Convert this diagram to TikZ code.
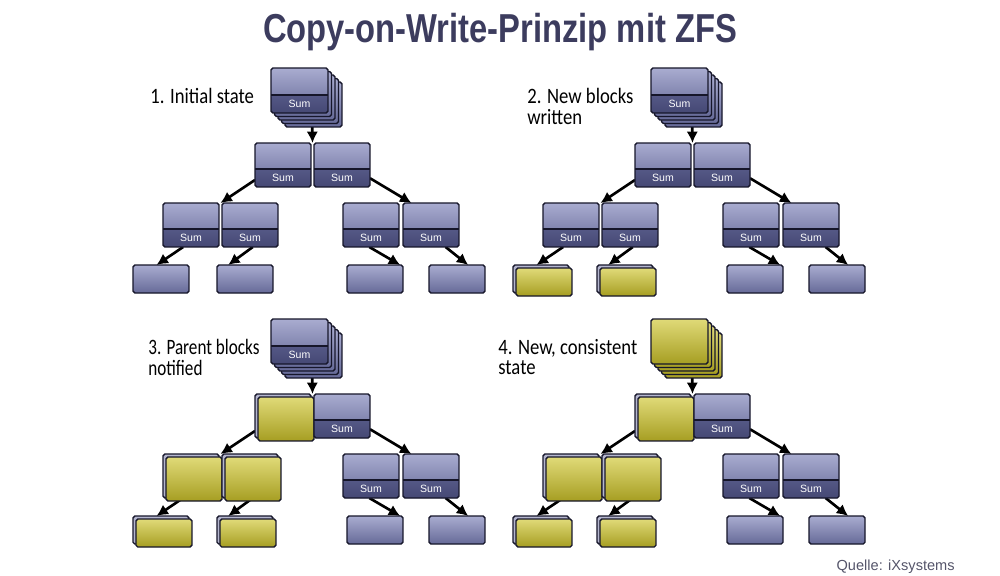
\documentclass[tikz,border=0pt]{standalone}
\usepackage{fontspec}
\newfontfamily\titlefont{Liberation Sans}
\newfontfamily\capfont{Carlito}
\usetikzlibrary{arrows.meta, calc, backgrounds}

\definecolor{bluetop}{HTML}{A9ACD0}
\definecolor{bluebot}{HTML}{666A98}
\definecolor{sumtop}{HTML}{6C70A0}
\definecolor{sumbot}{HTML}{454874}
\definecolor{blkline}{HTML}{16162A}
\definecolor{yeltop}{HTML}{E0DA78}
\definecolor{yelbot}{HTML}{A69E22}
\definecolor{backfill}{HTML}{B4B6CE}
\definecolor{titlecol}{HTML}{3C3C5E}
\definecolor{srccol}{HTML}{55556A}

\newcommand\narrow[2][0.85]{\scalebox{#1}[1]{#2}}

\tikzset{
  blk/.style={draw=blkline, line width=0.8pt, rounded corners=1pt, anchor=north west, inner sep=0pt, outer sep=0pt},
  midsize/.style={minimum width=1.12cm, minimum height=0.88cm},
  leafsize/.style={minimum width=1.12cm, minimum height=0.56cm},
  rootsize/.style={minimum width=1.14cm, minimum height=0.9cm},
  blueblk/.style={blk, top color=bluetop, bottom color=bluebot},
  yelblk/.style={blk, top color=yeltop, bottom color=yelbot},
  backblk/.style={blk, fill=backfill},
  sumtext/.style={font=\titlefont\fontsize{6}{6}\selectfont, text=white, inner sep=0pt, anchor=center},
  sumblk/.style={blueblk, path picture={
      \shade[top color=sumtop, bottom color=sumbot] (path picture bounding box.south west) rectangle ([yshift=0.36cm]path picture bounding box.south east);
      \draw[blkline, line width=0.6pt] ([yshift=0.36cm]path picture bounding box.south west) -- ([yshift=0.36cm]path picture bounding box.south east);
  }},
  oldmid/.style={sumblk, midsize},
  oldleaf/.style={blueblk, leafsize},
  conn/.style={line width=1.5pt, draw=black, -{Latex[length=6.5pt,width=6.5pt]}},
  statecap/.style={font=\capfont\fontsize{12.5}{11.9}\selectfont, text=black, inner sep=0pt, anchor=base west},
  titletext/.style={font=\titlefont\fontsize{23}{26}\selectfont\bfseries, text=titlecol, anchor=base, inner sep=0pt},
  srcnote/.style={font=\titlefont\fontsize{8.3}{10}\selectfont, text=srccol, anchor=base east, inner sep=0pt},
}

% one block: name, position, new (1) or old (0), mid/leaf
\newcommand\blkat[4]{%
  \ifnum#3=1
    \node[backblk, #4size] (#1) at (#2) {};
    \node[yelblk, #4size] (#1-new) at ([shift={(0.06cm,-0.06cm)}]#1.north west) {};
  \else
    \node[old#4] (#1) at (#2) {};
  \fi}
\newcommand\sumat[1]{\node[sumtext] (#1-sum) at ([yshift=0.18cm]#1.south) {Sum};}

% one tree: shift, prefix, root new, left parent new, left middle new, left leaves new
\newcommand\cowtree[6]{%
\begin{scope}[shift={(#1)}]
  \ifnum#3=1
    \tikzset{stackface/.style=yelblk, rootface/.style=yelblk}
  \else
    \tikzset{stackface/.style=blueblk, rootface/.style=sumblk}
  \fi
  % uberblock stack
  \foreach \k in {4,3,2,1}
    \node[stackface, rootsize] (#2-stack\k) at (271+3.5*\k,68+3.5*\k) {};
  \node[rootface, rootsize] (#2-root) at (271,68) {};
  \ifnum#3=0 \sumat{#2-root}\fi
  % level 1
  \blkat{#2-l1a}{255,143}{#4}{mid}
  \ifnum#4=0 \sumat{#2-l1a}\fi
  \blkat{#2-l1b}{314,143}{0}{mid}
  \sumat{#2-l1b}
  % level 2
  \blkat{#2-l2a}{163,203}{#5}{mid}
  \blkat{#2-l2b}{222,203}{#5}{mid}
  \ifnum#5=0 \sumat{#2-l2a}\sumat{#2-l2b}\fi
  \blkat{#2-l2c}{343,203}{0}{mid}
  \blkat{#2-l2d}{403,203}{0}{mid}
  \sumat{#2-l2c}
  \sumat{#2-l2d}
  % data blocks
  \blkat{#2-lfa}{133,265}{#6}{leaf}
  \blkat{#2-lfb}{217,265}{#6}{leaf}
  \blkat{#2-lfc}{347,265}{0}{leaf}
  \blkat{#2-lfd}{429,265}{0}{leaf}
  % pointers
  \begin{scope}[on background layer]
    \draw[conn] ($(#2-root.south west)!0.72!(#2-root.south east)$) -- ($(#2-l1a.north east)!0.5!(#2-l1b.north west)$);
    \draw[conn] ($(#2-l1a.north west)!0.84!(#2-l1a.south west)$) -- ($(#2-l2a.north east)!0.5!(#2-l2b.north west)$);
    \draw[conn] ($(#2-l1b.north east)!0.8!(#2-l1b.south east)$) -- ($(#2-l2d.north west)!0.15!(#2-l2d.north east)$);
    \draw[conn] ($(#2-l2a.south west)!0.36!(#2-l2a.south east)$) -- ($(#2-lfa.north west)!0.42!(#2-lfa.north east)$);
    \draw[conn] ($(#2-l2b.south west)!0.55!(#2-l2b.south east)$) -- ($(#2-lfb.north west)!0.2!(#2-lfb.north east)$);
    \draw[conn] ($(#2-l2c.south west)!0.47!(#2-l2c.south east)$) -- ($(#2-lfc.north west)!0.95!(#2-lfc.north east)$);
    \draw[conn] ($(#2-l2d.south west)!0.76!(#2-l2d.south east)$) -- ($(#2-lfd.north west)!0.7!(#2-lfd.north east)$);
  \end{scope}
\end{scope}}

\begin{document}
\begin{tikzpicture}[x=0.02cm, y=-0.02cm]
  \useasboundingbox (0,0) rectangle (1000,575);

  % title
  \node[titletext] (title) at (500,42) {\scalebox{0.81}[1]{Copy-on-Write-Prinzip mit ZFS}};

  % the four states
  \cowtree{0,0}{q1}{0}{0}{0}{0}
  \cowtree{380,0}{q2}{0}{0}{0}{1}
  \cowtree{0,251}{q3}{0}{1}{1}{1}
  \cowtree{380,251}{q4}{1}{1}{1}{1}

  % captions
  \node[statecap] (cap1) at (150,103) {\narrow{1. Initial state}};
  \node[statecap] (cap2) at (527,103) {\narrow{\begin{tabular}[t]{@{}l@{}}2. New blocks\\written\end{tabular}}};
  \node[statecap] (cap3) at (148,354) {\narrow[0.78]{\begin{tabular}[t]{@{}l@{}}3. Parent blocks\\notified\end{tabular}}};
  \node[statecap] (cap4) at (498,354) {\narrow{\begin{tabular}[t]{@{}l@{}}4. New, consistent\\state\end{tabular}}};

  % source
  \node[srcnote] (src) at (955,570) {Quelle: iXsystems};
\end{tikzpicture}
\end{document}
